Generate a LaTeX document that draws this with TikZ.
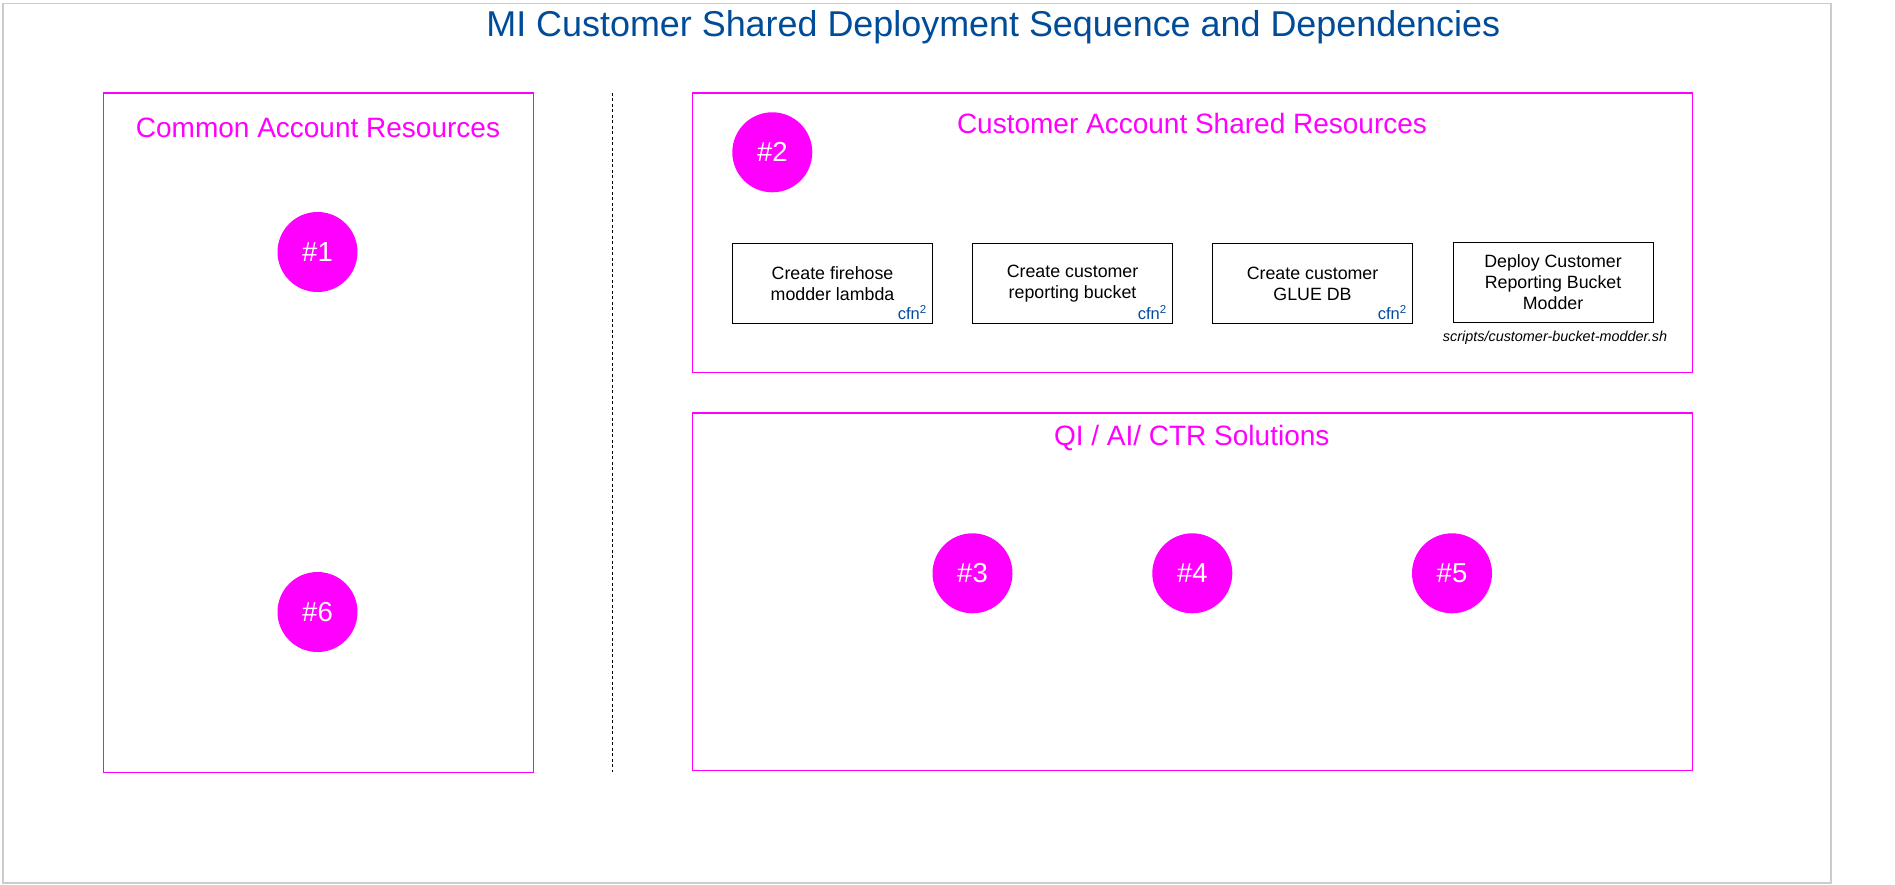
\documentclass[tikz,border=0pt]{standalone}
\usepackage{fontspec}
\setmainfont{Liberation Sans}
\definecolor{mag}{RGB}{255,0,255}
\definecolor{ttl}{RGB}{0,76,153}
\definecolor{framegray}{RGB}{204,204,204}
\begin{document}
\begin{tikzpicture}[x=1pt,y=-1pt,
 pageframe/.style={draw=framegray, line width=1.5pt, inner sep=0, anchor=north west},
 group/.style={draw=mag, line width=1.3pt, inner sep=0, anchor=north west},
 grptitle/.style={text=mag, font=\fontsize{28}{33}\selectfont, anchor=base, inner sep=0},
 badge/.style={circle, fill=mag, minimum size=80pt, inner sep=0, text=white, font=\fontsize{27.5}{33}\selectfont},
 task/.style={draw=black, line width=1.1pt, minimum width=200pt, minimum height=80pt, inner sep=0, align=center, font=\fontsize{17.8}{20.7}\selectfont, anchor=north west},
 cfnlbl/.style={text=ttl, font=\fontsize{16.5}{19}\selectfont, anchor=base east, inner sep=0},
 scriptlbl/.style={font=\fontsize{14.4}{17}\selectfont\itshape, anchor=base, inner sep=0}
]
\useasboundingbox (0,0) rectangle (1895,885);
\node[pageframe, minimum width=1828pt, minimum height=879pt] (page) at (2,3) {};

\node[anchor=base, text=ttl, font=\fontsize{35.9}{40}\selectfont, inner sep=0] (title) at (993.3,36.5) {MI Customer Shared Deployment Sequence and Dependencies};

% groups
\node[group, minimum width=430pt, minimum height=679.7pt] (common) at (102.6,92.3) {};
\node[group, minimum width=1000pt, minimum height=279.7pt] (cust) at (692,92.3) {};
\node[group, minimum width=1000pt, minimum height=357.7pt] (qi) at (692,412.3) {};

\node[grptitle] (commont) at (318,137.3) {Common Account Resources};
\node[grptitle] (custt) at (1192,133.3) {Customer Account Shared Resources};
\node[grptitle] (qit) at (1191.7,445) {QI / AI/ CTR Solutions};

% separator
\coordinate (d1) at (612.5,93);
\coordinate (d2) at (612.5,772);
\draw[black, line width=0.9pt, dash pattern=on 3pt off 2.5pt] (d1) -- (d2);

% badges
\node[badge] (b1) at (317.5,252) {\#1};
\node[badge] (b6) at (317.5,612) {\#6};
\node[badge] (b2) at (772.3,152.3) {\#2};
\node[badge] (b3) at (972.5,573.3) {\#3};
\node[badge] (b4) at (1192.3,573.3) {\#4};
\node[badge] (b5) at (1452,573.3) {\#5};

% tasks
\node[task] (t1) at (732,243) {Create firehose\\modder lambda};
\node[task] (t2) at (972,243) {Create customer\\reporting bucket};
\node[task] (t3) at (1212,243) {Create customer\\GLUE DB};
\node[task] (t4) at (1452.5,241.7) {Deploy Customer\\Reporting Bucket\\Modder};

\node[cfnlbl] (c1) at (926.5,319.5) {cfn\raisebox{6pt}{\fontsize{11.5}{13}\selectfont 2}};
\node[cfnlbl] (c2) at (1166.5,319.5) {cfn\raisebox{6pt}{\fontsize{11.5}{13}\selectfont 2}};
\node[cfnlbl] (c3) at (1406.5,319.5) {cfn\raisebox{6pt}{\fontsize{11.5}{13}\selectfont 2}};

\node[scriptlbl] (s4) at (1555,341.5) {scripts/customer-bucket-modder.sh};
\end{tikzpicture}
\end{document}
